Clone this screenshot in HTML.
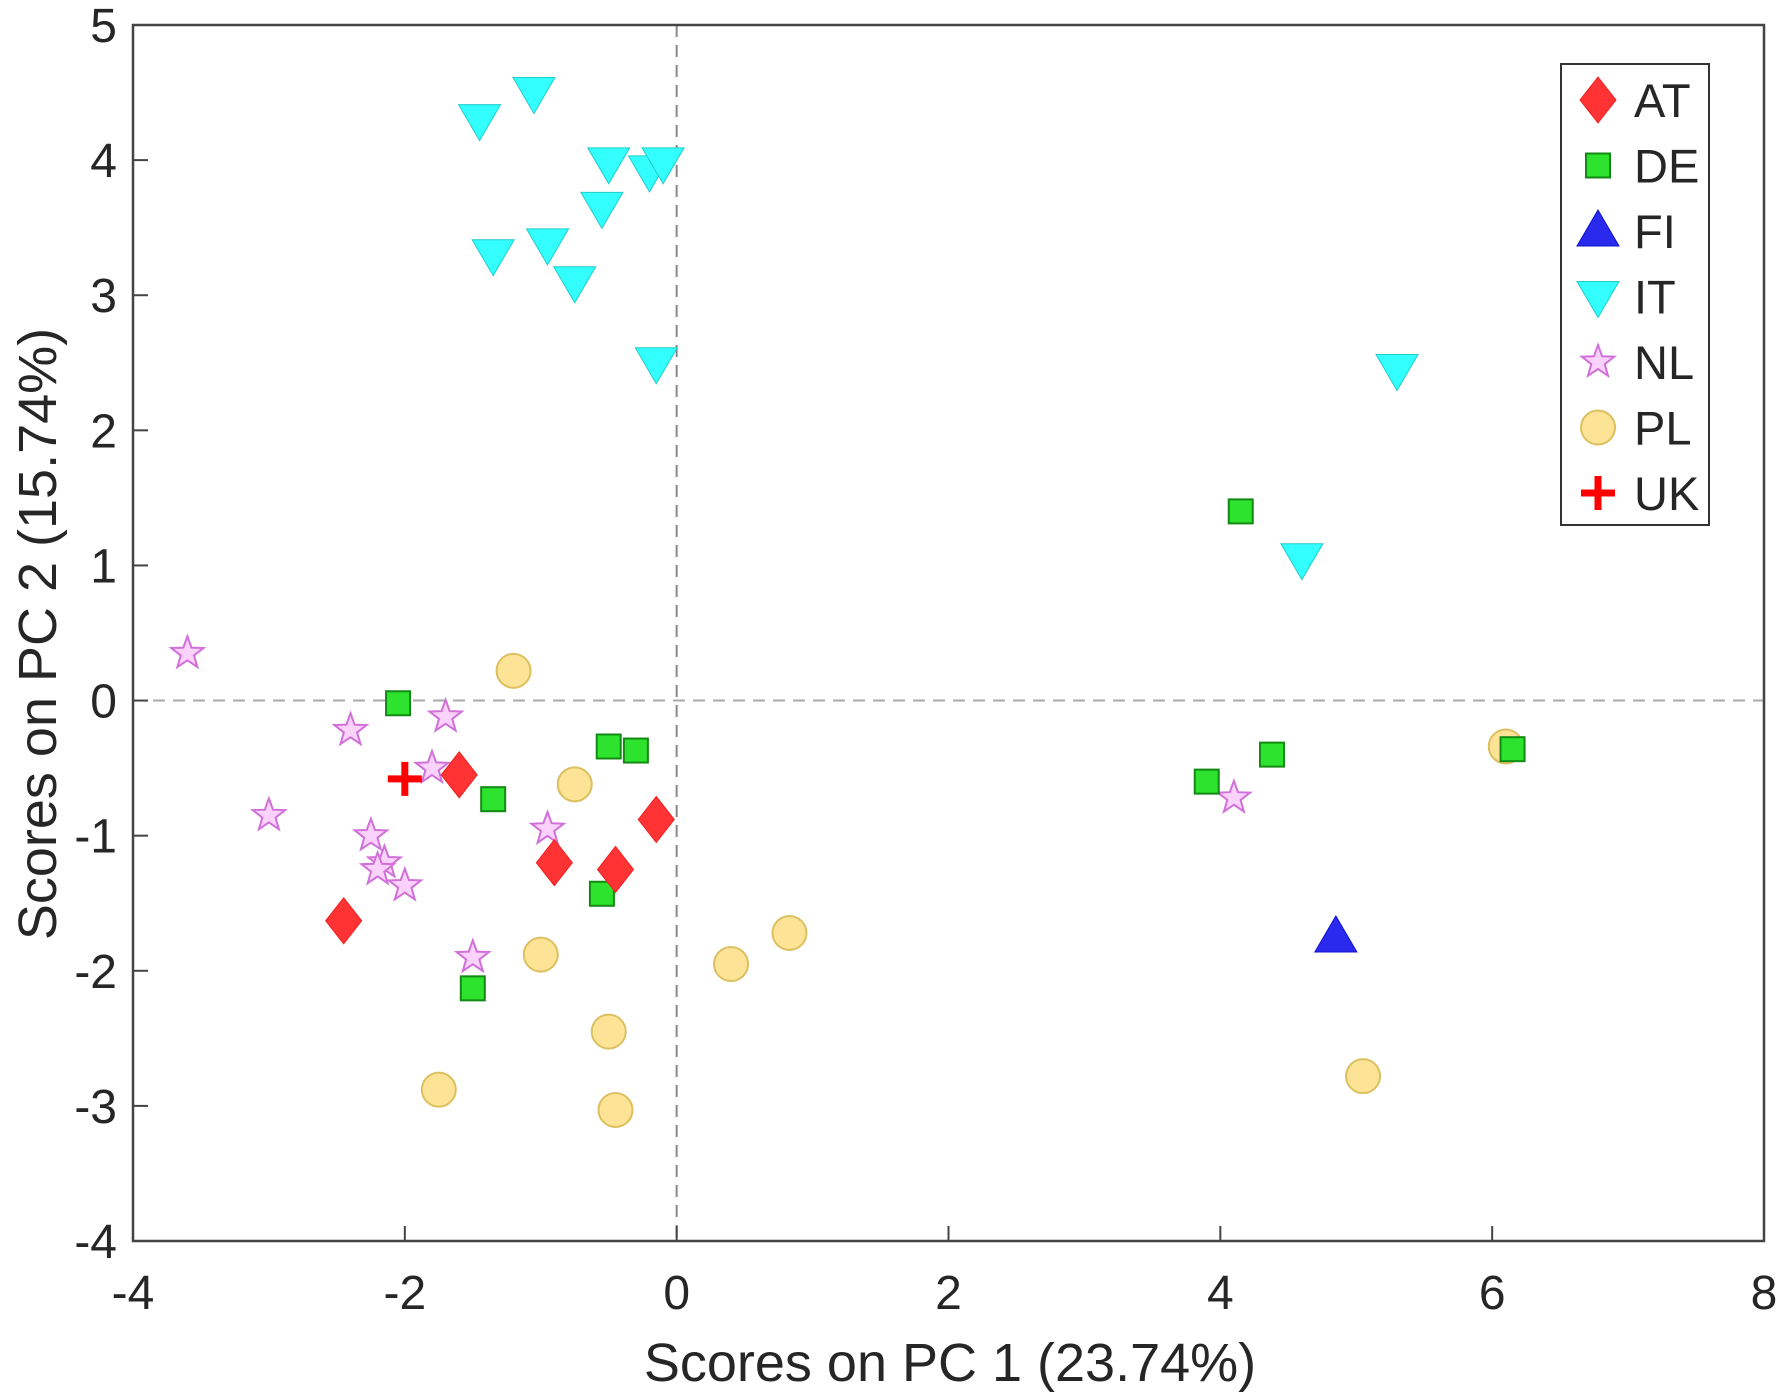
<!DOCTYPE html>
<html><head><meta charset="utf-8"><style>
body{margin:0;background:#fff}
svg{display:block}
text{font-family:"Liberation Sans",sans-serif;fill:#262626}
</style></head><body>
<svg id="chart" width="1784" height="1398" viewBox="0 0 1784 1398" xmlns="http://www.w3.org/2000/svg">
<g id="grid"></g><g id="marks"></g><g id="axes"></g><g id="legend"></g>
</svg>
<script>
const xTicks=[-4,-2,0,2,4,6,8];
const yTicks=[-4,-3,-2,-1,0,1,2,3,4,5];
const atX=[-2.45,-1.6,-0.9,-0.45,-0.15];
const atY=[-1.63,-0.55,-1.2,-1.25,-0.88];
const deX=[-2.05,-1.35,-0.5,-0.3,-0.55,-1.5,4.15,3.9,4.38,6.15];
const deY=[-0.02,-0.73,-0.34,-0.37,-1.43,-2.13,1.4,-0.6,-0.4,-0.36];
const fiX=[4.85];
const fiY=[-1.75];
const itX=[-1.45,-1.05,-0.5,-0.2,-0.1,-0.55,-1.35,-0.95,-0.75,-0.15,5.3,4.6];
const itY=[4.3,4.5,3.98,3.92,3.98,3.65,3.3,3.38,3.1,2.5,2.45,1.05];
const nlX=[-3.6,-2.4,-1.7,-1.8,-3.0,-2.25,-2.15,-2.2,-2.0,-1.5,-0.95,4.1];
const nlY=[0.35,-0.22,-0.12,-0.5,-0.85,-1.0,-1.2,-1.25,-1.37,-1.9,-0.95,-0.72];
const plX=[-1.2,-0.75,-1.0,0.4,0.83,-0.5,-1.75,-0.45,5.05,6.1];
const plY=[0.22,-0.62,-1.88,-1.95,-1.72,-2.45,-2.88,-3.03,-2.78,-0.34];
const ukX=[-2.0];
const ukY=[-0.58];
const legendLabels=["AT","DE","FI","IT","NL","PL","UK"];

const L=133,R=1764,T=25,B=1241;
const sx=v=>L+(v+4)/12*(R-L);
const sy=v=>T+(5-v)/9*(B-T);
const NS="http://www.w3.org/2000/svg";
function mk(tag,attrs,parent){const e=document.createElementNS(NS,tag);for(const k in attrs)e.setAttribute(k,attrs[k]);parent.appendChild(e);return e;}
const grid=document.getElementById('grid'),marks=document.getElementById('marks'),axes=document.getElementById('axes'),legend=document.getElementById('legend');

let z=mk('line',{x1:sx(0),x2:sx(0),y1:T,y2:B,stroke:'#888','stroke-width':2,'stroke-dasharray':'12,8'},grid);

z=mk('line',{x1:L,x2:R,y1:sy(0),y2:sy(0),stroke:'#aaa','stroke-width':2,'stroke-dasharray':'12,8'},grid);


function shape(kind,cx,cy,g){
  let e;
  if(kind==='AT'){e=mk('polygon',{points:`${cx},${cy-23} ${cx+18},${cy} ${cx},${cy+23} ${cx-18},${cy}`,fill:'#f33',stroke:'#e22','stroke-width':1},g);}
  else if(kind==='DE'){e=mk('rect',{x:cx-12,y:cy-12,width:24,height:24,fill:'#2de32d',stroke:'#138a13','stroke-width':2},g);}
  else if(kind==='FI'){e=mk('polygon',{points:`${cx},${cy-21} ${cx+21},${cy+15} ${cx-21},${cy+15}`,fill:'#2a2aee',stroke:'#1111cc','stroke-width':1},g);}
  else if(kind==='IT'){e=mk('polygon',{points:`${cx-21},${cy-15} ${cx+21},${cy-15} ${cx},${cy+21}`,fill:'#33ffff',stroke:'#22cccc','stroke-width':1},g);}
  else if(kind==='NL'){let p=[];for(let i=0;i<10;i++){const r=i%2?7:17;const a=-Math.PI/2+i*Math.PI/5;p.push((cx+r*Math.cos(a)).toFixed(1)+','+(cy+r*Math.sin(a)).toFixed(1));}
    e=mk('polygon',{points:p.join(' '),fill:'#fbd2fb',stroke:'#d070d8','stroke-width':2},g);}
  else if(kind==='PL'){e=mk('circle',{cx:cx,cy:cy,r:17,fill:'#fce396',stroke:'#dcc060','stroke-width':2},g);}
  else {e=mk('path',{d:`M${cx-17},${cy}H${cx+17}M${cx},${cy-17}V${cy+17}`,stroke:'#f00','stroke-width':7,fill:'none'},g);}
  return e;
}
const series=[["AT",atX,atY],["DE",deX,deY],["FI",fiX,fiY],["IT",itX,itY],["NL",nlX,nlY],["PL",plX,plY],["UK",ukX,ukY]];
const order=["PL","NL","DE","AT","IT","FI","UK"];
order.forEach(k=>{const s=series.find(q=>q[0]===k);s[1].forEach((xv,i)=>{
  const e=shape(k,sx(xv),sy(s[2][i]),marks);
  
  
});});

let f=mk('rect',{x:L,y:T,width:R-L,height:B-T,fill:'none',stroke:'#444','stroke-width':2.5},axes);

xTicks.forEach(v=>{
  const t=mk('line',{x1:sx(v),x2:sx(v),y1:B,y2:B-15,stroke:'#444','stroke-width':2},axes);
  
  const l=mk('text',{x:sx(v),y:1309,'text-anchor':'middle','font-size':48},axes);l.textContent=v;
  
});
yTicks.forEach(v=>{
  const t=mk('line',{x1:L,x2:L+15,y1:sy(v),y2:sy(v),stroke:'#444','stroke-width':2},axes);
  
  const l=mk('text',{x:117,y:sy(v)+17,'text-anchor':'end','font-size':48},axes);l.textContent=v;
  
});
let xt=mk('text',{x:950,y:1381,'text-anchor':'middle','font-size':54},axes);xt.textContent='Scores on PC 1 (23.74%)';

let yt=mk('text',{x:0,y:0,'text-anchor':'middle','font-size':54,transform:'translate(56,634) rotate(-90)'},axes);yt.textContent='Scores on PC 2 (15.74%)';


let lb=mk('rect',{x:1561,y:64,width:148,height:461,fill:'#fff',stroke:'#333','stroke-width':2},legend);

legendLabels.forEach((k,i)=>{
  const cy=100+i*65.5;
  const g=mk('g',{},legend);
  
  
  shape(k,1598,cy,g);
  const t=mk('text',{x:1634,y:cy+17,'font-size':47,fill:'#111'},g);t.textContent=k;
});
</script>
</body></html>
